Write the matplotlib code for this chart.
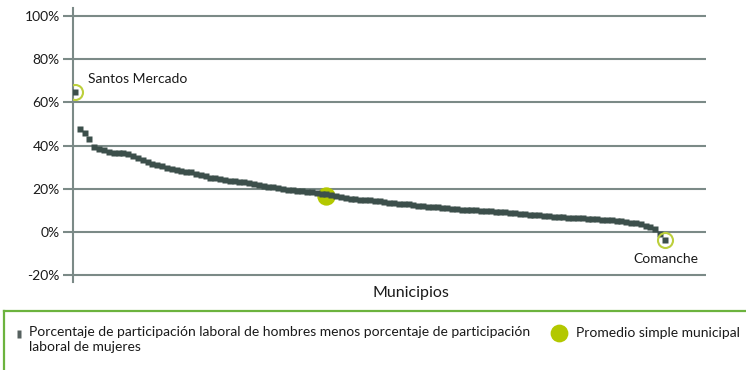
import matplotlib
matplotlib.use("Agg")
import matplotlib.pyplot as plt
from matplotlib.lines import Line2D
from matplotlib.path import Path

# Diferencia (pp) entre participacion laboral de hombres y de mujeres, por municipio, ordenada
brecha = [
    64.8, 47.5, 46.0, 43.0, 39.5, 38.5, 37.8, 37.2, 36.8, 36.5,
    36.5, 36.3, 35.3, 34.3, 33.4, 32.5, 31.7, 31.0, 30.4, 29.7,
    29.2, 28.6, 28.2, 28.0, 27.6, 27.0, 26.3, 26.0, 25.2, 24.8,
    24.4, 24.0, 23.8, 23.5, 23.3, 23.0, 22.6, 22.3, 21.9, 21.4,
    21.0, 20.7, 20.3, 20.0, 19.7, 19.4, 19.2, 19.0, 18.7, 18.4,
    18.0, 17.7, 17.4, 17.1, 16.6, 16.3, 16.0, 15.5, 15.2, 15.0,
    14.8, 14.7, 14.5, 14.3, 14.0, 13.6, 13.4, 13.2, 13.0, 12.8,
    12.6, 12.3, 12.0, 11.8, 11.6, 11.5, 11.3, 11.1, 10.9, 10.6,
    10.4, 10.2, 10.1, 10.0, 9.8, 9.7, 9.6, 9.5, 9.4, 9.2,
    9.0, 8.8, 8.6, 8.3, 8.1, 7.9, 7.7, 7.5, 7.3, 7.1,
    6.9, 6.8, 6.7, 6.6, 6.5, 6.3, 6.2, 6.1, 5.9, 5.8,
    5.6, 5.4, 5.2, 5.0, 4.7, 4.4, 4.0, 3.6, 3.0, 2.3,
    1.2, -0.8, -3.5,
]
promedio = 16.7
pos_promedio = 52
mun_max = "Santos Mercado"
mun_min = "Comanche"
yticks = [-20, 0, 20, 40, 60, 80, 100]

MARKER = "#3c4f4b"
GRID = "#7b8a87"
LIME = "#b3c800"
RING = "#bccf3c"
FRAME = "#6cb33e"

plt.rcParams["font.family"] = ["Lato", "DejaVu Sans"]

fig = plt.figure(figsize=(7.46, 3.70), dpi=100)
W, H = 746, 370
ax = fig.add_axes([73 / W, 1 - 282 / H, (706 - 73) / W, (282 - 8) / H])


def rect_marker(half_w):
    # marcador rectangular de alto 1 y ancho 2*half_w
    return Path([(-half_w, -0.5), (half_w, -0.5), (half_w, 0.5), (-half_w, 0.5), (-half_w, -0.5)],
                [Path.MOVETO, Path.LINETO, Path.LINETO, Path.LINETO, Path.CLOSEPOLY])


x = list(range(len(brecha)))
ax.plot(pos_promedio, promedio, "o", ms=13.2, color=LIME, mec="none", zorder=3)
ax.plot(x, brecha, ls="none", marker=rect_marker(0.37), ms=5.0, color=MARKER, mec="none", zorder=4)

# extremos marcados con anillos
for i in (0, len(brecha) - 1):
    ax.plot(i, brecha[i], "o", ms=10.8, mfc="none", mec=RING, mew=1.5, zorder=5)

ax.annotate(mun_max, xy=(0, brecha[0]), xytext=(9.5, 9.5), textcoords="offset points",
            ha="left", va="center", fontsize=10, color="#1a1a1a")
ax.annotate(mun_min, xy=(len(brecha) - 1, brecha[-1]), xytext=(1, -14), textcoords="offset points",
            ha="center", va="center", fontsize=10, color="#1a1a1a")

ax.set_xlim(-0.41, 130.5)
ax.set_ylim(-23.1, 103.7)
ax.set_yticks(yticks)
ax.set_yticklabels([f"{t}%" for t in yticks])
ax.set_xticks([])
ax.yaxis.grid(True, color=GRID, lw=1.5)
ax.set_axisbelow(True)
ax.tick_params(axis="y", length=7, width=1.5, color=GRID, pad=2.5, labelsize=10, labelcolor="#1a1a1a")
for s in ("top", "right", "bottom"):
    ax.spines[s].set_visible(False)
ax.spines["left"].set_color(GRID)
ax.spines["left"].set_linewidth(1.5)

fig.text(411 / W, 1 - 293 / H, "Municipios", ha="center", va="center", fontsize=11.5, color="#1a1a1a")

# recuadro de la leyenda
fig.add_artist(Line2D([4 / W, 1], [1 - 311 / H, 1 - 311 / H], color=FRAME, lw=1.6))
fig.add_artist(Line2D([4 / W, 4 / W], [1 - 311 / H, 0], color=FRAME, lw=1.6))

fig.add_artist(Line2D([18.5 / W], [1 - 334 / H], ls="none", marker=rect_marker(0.25), ms=5.2,
                      color="#56615f", mec="none"))
fig.text(29 / W, 1 - 326 / H,
         "Porcentaje de participación laboral de hombres menos porcentaje de participación\nlaboral de mujeres",
         ha="left", va="top", fontsize=10, linespacing=1.3, color="#1a1a1a")
fig.add_artist(Line2D([559 / W], [1 - 333 / H], ls="none", marker="o", ms=12.8,
                      color=LIME, mec="none"))
fig.text(576 / W, 1 - 333 / H, "Promedio simple municipal", ha="left", va="center",
         fontsize=10, color="#1a1a1a")

fig.savefig("out.png", dpi=100)
